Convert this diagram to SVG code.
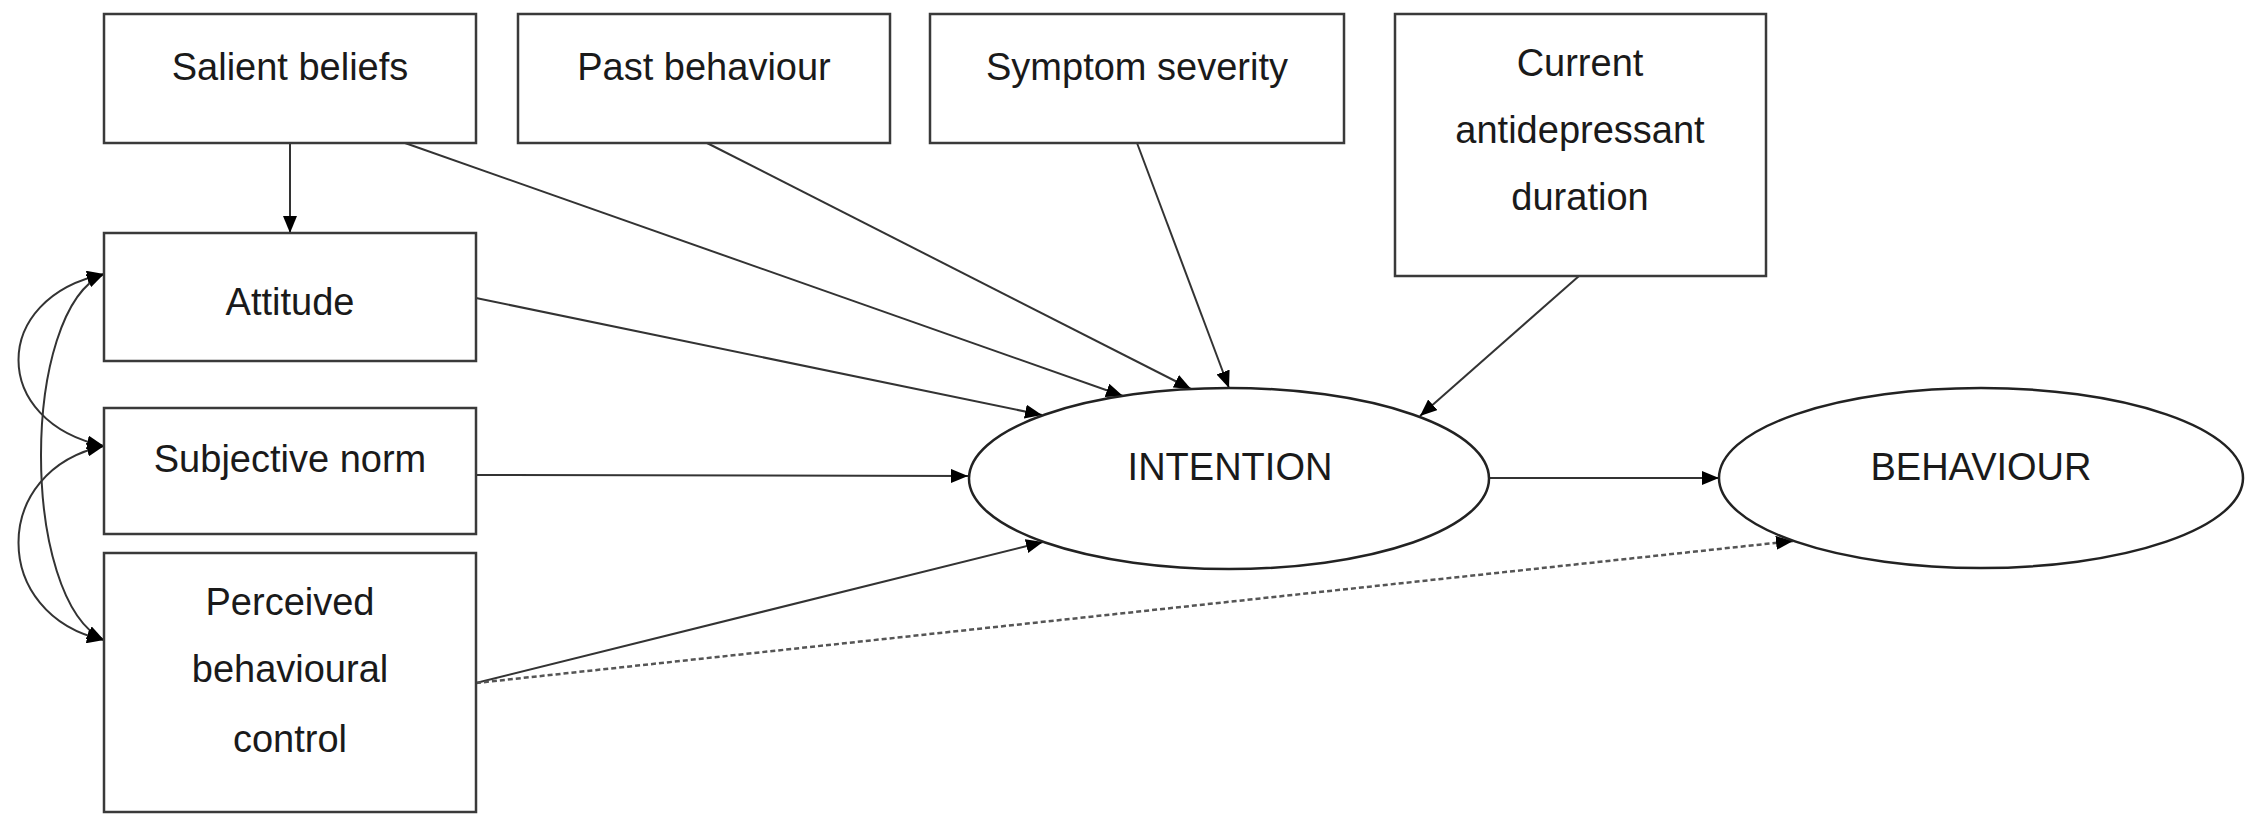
<svg xmlns="http://www.w3.org/2000/svg" width="2245" height="815" viewBox="0 0 2245 815">
<style>
.box{fill:#fff;stroke:#3a3a3a;stroke-width:2.5}
.ell{fill:#fff;stroke:#222;stroke-width:2.5}
.t{font-family:"Liberation Sans",Arial,sans-serif;font-size:38px;fill:#1a1a1a;text-anchor:middle}
.c{fill:none;stroke:#333;stroke-width:2}
.d{fill:none;stroke:#555;stroke-width:2.5;stroke-dasharray:5 3}
</style>
<defs>
<marker id="ah" markerUnits="userSpaceOnUse" markerWidth="18" markerHeight="14" refX="17" refY="7" orient="auto-start-reverse" viewBox="0 0 18 14">
<path d="M0,0 L17,7 L0,14 Z" fill="#000"/>
</marker>
</defs>
<rect width="2245" height="815" fill="#fff"/>
<g id="connectors">
<line class="c" x1="290" y1="143" x2="290" y2="233" marker-end="url(#ah)"/>
<line class="c" x1="405" y1="143" x2="1123" y2="396" marker-end="url(#ah)"/>
<line class="c" x1="707" y1="143" x2="1191" y2="389" marker-end="url(#ah)"/>
<line class="c" x1="1137" y1="143" x2="1229" y2="388" marker-end="url(#ah)"/>
<line class="c" x1="1579" y1="276" x2="1420" y2="416" marker-end="url(#ah)"/>
<line class="c" x1="476" y1="298" x2="1042" y2="415" marker-end="url(#ah)"/>
<line class="c" x1="476" y1="475" x2="968" y2="476" marker-end="url(#ah)"/>
<line class="c" x1="476" y1="683" x2="1043" y2="542" marker-end="url(#ah)"/>
<line class="d" x1="476" y1="683" x2="1793" y2="541" marker-end="url(#ah)"/>
<line class="c" x1="1489" y1="478" x2="1719" y2="478" marker-end="url(#ah)"/>
<path class="c" d="M104,274 C-10,298 -10,422 104,446" marker-start="url(#ah)" marker-end="url(#ah)"/>
<path class="c" d="M104,274 C20,310 20,600 104,640" marker-start="url(#ah)" marker-end="url(#ah)"/>
<path class="c" d="M104,446 C-10,470 -10,615 104,640" marker-start="url(#ah)" marker-end="url(#ah)"/>
</g>
<g id="salient-beliefs"><rect class="box" x="104" y="14" width="372" height="129"/><text class="t" x="290" y="80">Salient beliefs</text></g>
<g id="past-behaviour"><rect class="box" x="518" y="14" width="372" height="129"/><text class="t" x="704" y="80">Past behaviour</text></g>
<g id="symptom-severity"><rect class="box" x="930" y="14" width="414" height="129"/><text class="t" x="1137" y="80">Symptom severity</text></g>
<g id="current-antidepressant-duration"><rect class="box" x="1395" y="14" width="371" height="262"/><text class="t" x="1580" y="76">Current</text><text class="t" x="1580" y="143">antidepressant</text><text class="t" x="1580" y="210">duration</text></g>
<g id="attitude"><rect class="box" x="104" y="233" width="372" height="128"/><text class="t" x="290" y="315">Attitude</text></g>
<g id="subjective-norm"><rect class="box" x="104" y="408" width="372" height="126"/><text class="t" x="290" y="472">Subjective norm</text></g>
<g id="perceived-behavioural-control"><rect class="box" x="104" y="553" width="372" height="259"/><text class="t" x="290" y="615">Perceived</text><text class="t" x="290" y="682">behavioural</text><text class="t" x="290" y="752">control</text></g>
<g id="intention"><ellipse class="ell" cx="1229" cy="478.5" rx="260" ry="90.5"/><text class="t" x="1230" y="480">INTENTION</text></g>
<g id="behaviour"><ellipse class="ell" cx="1981" cy="478" rx="262" ry="90"/><text class="t" x="1981" y="480">BEHAVIOUR</text></g>
</svg>
